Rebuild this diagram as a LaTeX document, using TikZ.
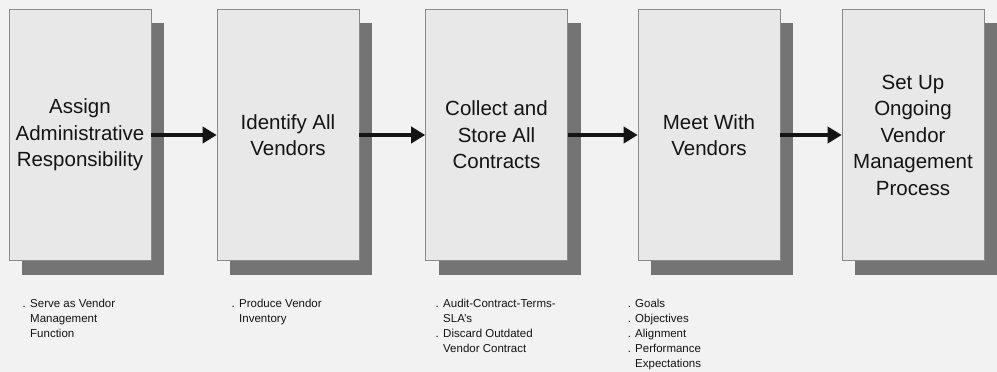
\documentclass[tikz,border=0pt]{standalone}
\usepackage{fontspec}
\setmainfont{Liberation Sans}
\usetikzlibrary{arrows.meta}

\definecolor{paper}{HTML}{F2F2F2}
\definecolor{boxfill}{HTML}{E8E8E8}
\definecolor{boxline}{HTML}{8A8A8A}
\definecolor{shadowgray}{HTML}{747474}
\definecolor{ink}{HTML}{141414}

\tikzset{
  stage/.style={draw=boxline, fill=boxfill, line width=0.6pt, minimum width=142pt,
    minimum height=251pt, inner sep=0pt, align=center, text=ink,
    font=\fontsize{20.5}{26.5}\selectfont},
  note/.style={anchor=north west, inner sep=0pt, align=left, text=ink,
    font=\fontsize{11.5}{15}\selectfont},
  flow/.style={line width=3.8pt, draw=ink, -{Triangle[length=14pt,width=16pt]}},
}

\begin{document}
\begin{tikzpicture}[x=1pt, y=-1pt]

% Paper
\fill[paper] (0,0) rectangle (997,372);
\useasboundingbox (0,0) rectangle (997,372);

% Shadows
\foreach \x in {9,217,426,638,842}
  \fill[shadowgray] (\x+13,23) rectangle (\x+155,275);

% Stages
\node[stage] (s1) at (80,135) {Assign\\Administrative\\Responsibility};
\node[stage] (s2) at (288,135) {Identify All\\Vendors};
\node[stage] (s3) at (496.5,135) {Collect and\\Store All\\Contracts};
\node[stage] (s4) at (709,135) {Meet With\\Vendors};
\node[stage] (s5) at (913,135) {Set Up\\Ongoing\\Vendor\\Management\\Process};

% Arrows
\draw[flow] (s1.east) -- (s2.west);
\draw[flow] (s2.east) -- (s3.west);
\draw[flow] (s3.east) -- (s4.west);
\draw[flow] (s4.east) -- (s5.west);

% Notes
\node[note] (n1) at (30,298.5) {\llap{. }Serve as Vendor\\Management\\Function};
\node[note] (n2) at (239,298.5) {\llap{. }Produce Vendor\\Inventory};
\node[note] (n3) at (443,298.5) {\llap{. }Audit-Contract-Terms-\\SLA’s\\\llap{. }Discard Outdated\\Vendor Contract};
\node[note] (n4) at (635,298.5) {\llap{. }Goals\\\llap{. }Objectives\\\llap{. }Alignment\\\llap{. }Performance\\Expectations};

\end{tikzpicture}
\end{document}
